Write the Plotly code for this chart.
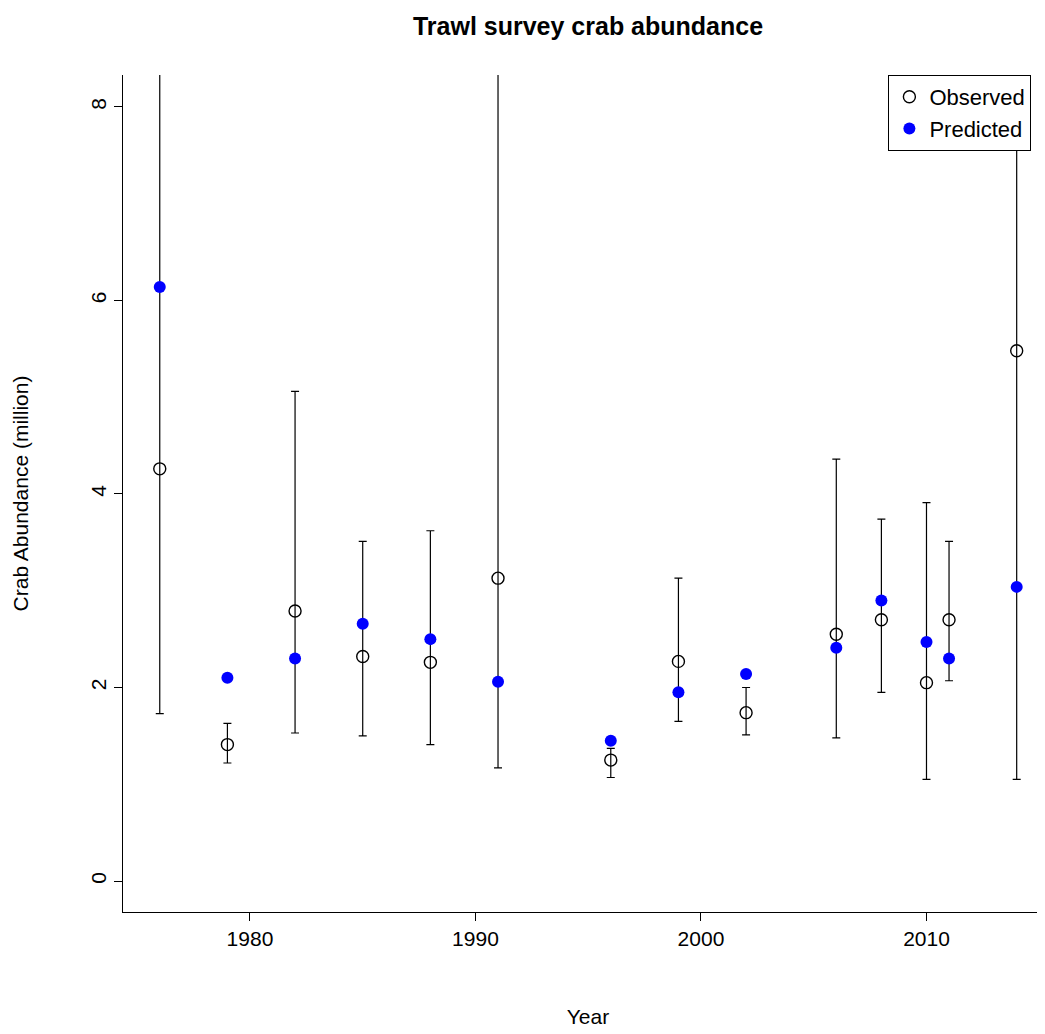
import plotly.graph_objects as go

years = [1976, 1979, 1982, 1985, 1988, 1991, 1996, 1999, 2002, 2006, 2008, 2010, 2011, 2014]
observed = [4.26, 1.41, 2.79, 2.32, 2.26, 3.13, 1.25, 2.27, 1.74, 2.55, 2.70, 2.05, 2.70, 5.48]
predicted = [6.14, 2.10, 2.30, 2.66, 2.50, 2.06, 1.45, 1.95, 2.14, 2.41, 2.90, 2.47, 2.30, 3.04]
lower = [1.73, 1.22, 1.53, 1.50, 1.41, 1.17, 1.07, 1.65, 1.51, 1.48, 1.95, 1.05, 2.07, 1.05]
upper = [10.5, 1.63, 5.06, 3.51, 3.62, 10.5, 1.37, 3.13, 2.00, 4.36, 3.74, 3.91, 3.51, 10.5]

fig = go.Figure()
fig.add_trace(go.Scatter(
    x=years, y=observed, mode='markers', name='Observed',
    marker=dict(symbol='circle-open', size=12, color='black', line=dict(width=1.4)),
    error_y=dict(type='data', symmetric=False,
                 array=[u - o for u, o in zip(upper, observed)],
                 arrayminus=[o - l for o, l in zip(observed, lower)],
                 color='black', thickness=1.2, width=4),
))
fig.add_trace(go.Scatter(
    x=years, y=predicted, mode='markers', name='Predicted',
    marker=dict(symbol='circle', size=12, color='#0000ff'),
))

font = dict(family='Liberation Sans, Arial, sans-serif', size=20, color='black')
fig.update_layout(
    width=1045, height=1034,
    margin=dict(l=115, r=0, t=67, b=130, autoexpand=False),
    paper_bgcolor='white', plot_bgcolor='white',
    font=font,
    title=dict(text='<b>Trawl survey crab abundance</b>', x=0.5, xanchor='center',
               xref='paper', y=0.982, yanchor='middle', font=dict(size=25)),
    showlegend=True,
    legend=dict(x=0.823, xanchor='left', y=1, yanchor='top', bordercolor='black',
                borderwidth=1, bgcolor='white', font=dict(size=22),
                tracegroupgap=0, itemwidth=30),
)
fig.update_xaxes(range=[1974.37, 2015.61], tickvals=[1980, 1990, 2000, 2010],
                 showgrid=False, zeroline=False, showline=True, linecolor='black',
                 ticks='outside', ticklen=8, tickcolor='black', automargin=False,
                 tickfont=dict(size=21),
                 title=dict(text='Year', standoff=60, font=dict(size=21)))
fig.update_yaxes(range=[-0.32, 8.33], tickvals=[0, 2, 4, 6, 8],
                 showgrid=False, zeroline=False, showline=True, linecolor='black',
                 ticks='outside', ticklen=8, tickcolor='black', tickangle=-90,
                 tickfont=dict(size=21), automargin=False,
                 title=dict(text='Crab Abundance (million)', standoff=52, font=dict(size=21)))
fig.write_html("out.html")
